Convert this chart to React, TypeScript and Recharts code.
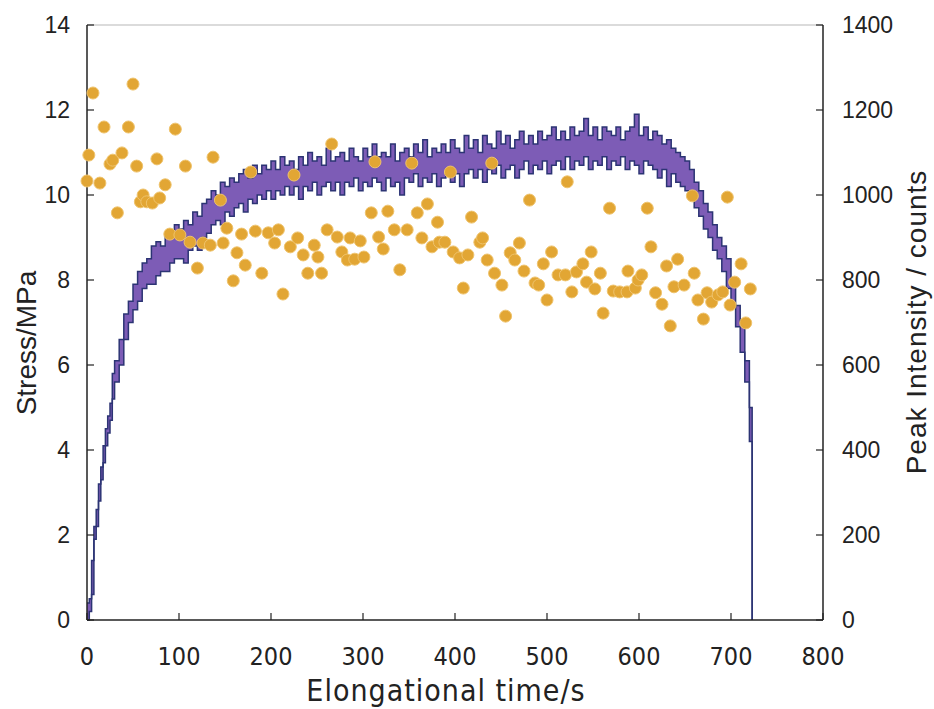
import { ComposedChart, Area, Scatter, XAxis, YAxis, ReferenceLine } from 'recharts'

// stress trace (sampled band: lower / upper edge of the noisy signal)
const stressTime = [
  0, 2.5, 5, 7.5, 10, 12.5, 15, 17.5, 20, 22.5,
  25, 27.5, 30,
  35, 40, 45,
  50, 55, 60, 65, 70, 75, 80, 85, 90, 95,
  100, 105, 110, 115, 120, 125, 130, 135, 140, 145,
  150, 155, 160, 165, 170, 175, 180, 185, 190, 195,
  200, 205, 210, 215, 220, 225, 230, 235, 240, 245,
  250, 255, 260, 265, 270, 275, 280, 285, 290, 295,
  300, 305, 310, 315, 320, 325, 330, 335, 340, 345,
  350, 355, 360, 365, 370, 375, 380, 385, 390, 395,
  400, 405, 410, 415, 420, 425, 430, 435, 440, 445,
  450, 455, 460, 465, 470, 475, 480, 485, 490, 495,
  500, 505, 510, 515, 520, 525, 530, 535, 540, 545,
  550, 555, 560, 565, 570, 575, 580, 585, 590, 595,
  600, 605, 610, 615, 620, 625, 630, 635, 640, 645,
  650, 655, 660, 665, 670, 675, 680, 685, 690, 695,
  700, 705, 710, 715, 720,
  723,
]

const stressLow = [
  0.0, 0.2, 0.6, 1.9, 2.2, 2.8, 3.3, 3.7, 4.1, 4.4,
  4.7, 5.2, 5.6,
  6.0, 6.6, 7.0,
  7.3, 7.5, 7.8, 7.9, 7.9, 8.1, 8.2, 8.2, 8.4, 8.5,
  8.5, 8.4, 8.7, 8.8, 8.7, 9.0, 9.1, 9.3, 9.4, 9.3,
  9.6, 9.5, 9.7, 9.8, 9.6, 9.9, 9.8, 10.0, 9.9, 10.1,
  9.9, 10.1, 10.0, 10.2, 10.0, 10.2, 9.9, 10.2, 10.1, 10.3,
  10.0, 10.2, 10.3, 10.1, 10.3, 10.0, 10.3, 10.2, 10.4, 10.1,
  10.3, 10.2, 10.4, 10.3, 10.1, 10.4, 10.2, 10.3, 10.0, 10.4,
  10.3, 10.5, 10.2, 10.4, 10.3, 10.5, 10.2, 10.4, 10.6, 10.3,
  10.5, 10.2, 10.5, 10.6, 10.4, 10.6, 10.3, 10.6, 10.5, 10.7,
  10.4, 10.6, 10.7, 10.4, 10.6, 10.8, 10.5, 10.7, 10.6, 10.8,
  10.5, 10.7, 10.8, 10.6, 10.9, 10.6, 10.8, 10.7, 10.9, 10.6,
  10.8, 10.7, 10.9, 10.6, 10.8, 10.7, 10.9, 10.6, 10.8, 10.7,
  10.5, 10.8, 10.7, 10.6, 10.4, 10.6, 10.2, 10.5, 10.3, 10.2,
  10.1, 9.9, 9.7, 9.5, 9.2, 9.0, 8.7, 8.5, 8.2, 7.8,
  7.4, 6.9, 6.3, 5.6, 4.2,
  0,
]

const stressHigh = [
  0.4, 0.5, 1.4, 2.2, 2.6, 3.2, 3.6, 4.1, 4.5, 4.8,
  5.1, 5.8, 6.1,
  6.6, 7.2, 7.5,
  7.9, 8.2, 8.4, 8.5, 8.8, 8.9, 8.8, 9.1, 9.0, 9.3,
  9.2, 9.4, 9.3, 9.6, 9.5, 9.8, 9.9, 10.1, 10.0, 10.3,
  10.2, 10.4, 10.3, 10.5, 10.6, 10.4, 10.7, 10.5, 10.7, 10.6,
  10.8, 10.6, 10.9, 10.7, 10.8, 10.6, 10.9, 10.7, 11.0, 10.8,
  10.9, 10.7, 11.1, 10.8, 10.9, 11.0, 10.8, 11.1, 10.9, 10.8,
  11.1, 10.9, 11.2, 10.9, 11.0, 10.9, 11.2, 10.8, 11.0, 11.1,
  10.9, 11.2, 11.0, 11.3, 10.9, 11.1, 11.0, 11.2, 11.0, 11.3,
  11.1, 11.0, 11.4, 11.1, 11.3, 11.0, 11.4, 11.2, 11.1, 11.5,
  11.2, 11.4, 11.1, 11.3, 11.5, 11.2, 11.4, 11.2, 11.5, 11.3,
  11.4, 11.6, 11.3, 11.5, 11.3, 11.6, 11.4, 11.5, 11.8, 11.4,
  11.6, 11.3, 11.6, 11.5, 11.4, 11.6, 11.3, 11.5, 11.6, 11.9,
  11.4, 11.6, 11.3, 11.5, 11.4, 11.2, 11.3, 11.1, 11.0, 10.9,
  10.8, 10.6, 10.3, 10.1, 9.8, 9.6, 9.3, 9.0, 8.8, 8.5,
  8.0, 7.4, 7.0, 6.1, 5.0,
  0,
]

// peak intensity points
const peakTime = [
  0, 2, 6.5, 14, 18.5, 25, 28, 33, 38, 45,
  50, 54, 58, 61, 65, 71, 76, 79, 85, 90,
  96, 101, 107, 112, 120, 126, 134, 137, 145, 148,
  152, 159, 163, 168, 172, 178, 183, 190, 197, 204,
  208, 213, 221, 225, 229, 235, 240, 247, 251, 255,
  261, 266, 272, 277, 283, 286, 291, 297, 301, 309,
  313, 317, 322, 327, 334, 340, 348, 353, 359, 364,
  370, 375, 381, 383, 389, 395, 398, 405, 409, 414,
  418, 427, 430, 435, 440, 443, 451, 455, 460, 465,
  470, 475, 481, 487, 491, 496, 500, 505, 512, 520,
  522, 527, 532, 539, 543, 548, 552, 558, 561, 568,
  572, 579, 587, 588, 596, 599, 603, 609, 613, 618,
  625, 630, 634, 638, 642, 649, 658, 660, 664, 670,
  674, 679, 686, 691, 696, 699, 704, 711, 716, 721,
]

const peakIntensity = [
  1033, 1094, 1240, 1028, 1160, 1073, 1082, 958, 1099, 1160,
  1261, 1068, 984, 1000, 984, 981, 1085, 993, 1024, 908,
  1155, 906, 1068, 889, 828, 887, 882, 1089, 988, 887,
  922, 798, 864, 908, 835, 1054, 915, 816, 911, 887,
  918, 767, 878, 1047, 899, 859, 816, 882, 854, 816,
  918, 1120, 901, 866, 847, 899, 849, 892, 854, 958,
  1078, 901, 873, 962, 918, 824, 918, 1075, 958, 899,
  979, 878, 936, 889, 889, 1054, 866, 852, 781, 859,
  948, 889, 899, 847, 1075, 816, 788, 715, 864, 847,
  887, 821, 988, 793, 788, 838, 753, 866, 812, 812,
  1031, 772, 819, 838, 795, 866, 779, 816, 722, 969,
  774, 772, 772, 821, 781, 800, 812, 969, 878, 770,
  743, 833, 692, 784, 849, 788, 998, 816, 753, 708,
  770, 748, 765, 772, 995, 741, 795, 838, 699, 779,
]

const timeTicks = [0, 100, 200, 300, 400, 500, 600, 700, 800]
const stressTicks = [0, 2, 4, 6, 8, 10, 12, 14]
const intensityTicks = [0, 200, 400, 600, 800, 1000, 1200, 1400]

const stressRows = stressTime.map((t, i) => ({ t, band: [stressLow[i], stressHigh[i]] }))
const peakRows = peakTime.map((t, i) => ({ t, counts: peakIntensity[i] }))

const FONT = '"Liberation Sans", Arial, Helvetica, sans-serif'
const NARROW = '"Liberation Sans Narrow", "DejaVu Sans Condensed", "Liberation Sans", Arial, sans-serif'
const INK = '#222'

const dotShape = (p: any) => (
  <circle cx={p.cx} cy={p.cy} r={6} fill="#e2a634" stroke="#efc36c" strokeWidth={1} />
)

export default function App() {
  return (
    <div style={{ position: 'absolute', left: 0, top: 0, width: 934, height: 709, background: '#fff' }}>
      <ComposedChart
        width={934}
        height={709}
        data={stressRows}
        margin={{ top: 25, right: 51, bottom: 29, left: 27 }}
      >
        <XAxis
          dataKey="t"
          type="number"
          domain={[0, 800]}
          ticks={timeTicks}
          height={60}
          axisLine={{ stroke: INK, strokeWidth: 1.5 }}
          tickLine={{ stroke: INK, strokeWidth: 1.2 }}
          tickSize={-7}
          tickMargin={34}
          tick={{ fontSize: 25, fill: INK, fontFamily: NARROW }}
          label={{
            content: () => (
              <text x={446} y={690} textAnchor="middle" dominantBaseline="central"
                fontSize={30} fill={INK} fontFamily={NARROW} letterSpacing={1}>
                Elongational time/s
              </text>
            ),
          }}
        />
        <YAxis
          yAxisId="left"
          type="number"
          domain={[0, 14]}
          ticks={stressTicks}
          width={60}
          axisLine={{ stroke: INK, strokeWidth: 1.5 }}
          tickLine={{ stroke: INK, strokeWidth: 1.2 }}
          tickSize={-7}
          tickMargin={24}
          tick={{ fontSize: 23, fill: INK, fontFamily: FONT }}
          label={{
            content: () => (
              <text x={26} y={343} transform="rotate(-90 26 343)" textAnchor="middle"
                dominantBaseline="central" fontSize={28} fill={INK} fontFamily={FONT}>
                Stress/MPa
              </text>
            ),
          }}
        />
        <YAxis
          yAxisId="right"
          orientation="right"
          type="number"
          domain={[0, 1400]}
          ticks={intensityTicks}
          width={60}
          axisLine={{ stroke: INK, strokeWidth: 1.5 }}
          tickLine={{ stroke: INK, strokeWidth: 1.2 }}
          tickSize={-7}
          tickMargin={26}
          tick={{ fontSize: 23, fill: INK, fontFamily: FONT }}
          label={{
            content: () => (
              <text x={916} y={322} transform="rotate(-90 916 322)" textAnchor="middle"
                dominantBaseline="central" fontSize={28} fill={INK} fontFamily={FONT} letterSpacing={1}>
                Peak Intensity / counts
              </text>
            ),
          }}
        />
        <ReferenceLine yAxisId="left" y={14} stroke="#cfcfcf" strokeWidth={1.5} />
        <Area
          yAxisId="left"
          dataKey="band"
          type="stepAfter"
          fill="#7d5cb6"
          fillOpacity={1}
          stroke="#2c3474"
          strokeWidth={1.5}
          dot={false}
          activeDot={false}
          isAnimationActive={false}
        />
        <Scatter
          yAxisId="right"
          data={peakRows}
          dataKey="counts"
          shape={dotShape}
          isAnimationActive={false}
        />
      </ComposedChart>
    </div>
  )
}
